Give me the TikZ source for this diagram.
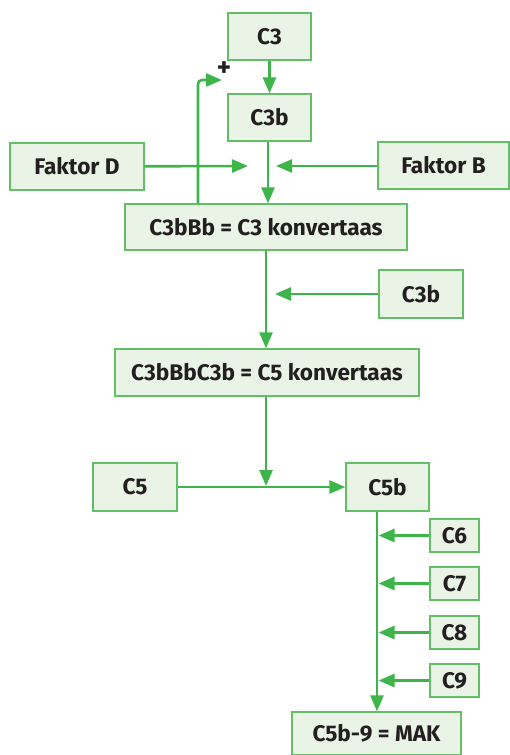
\documentclass[tikz,border=0pt]{standalone}
\usepackage{fontspec}
\setmainfont{Fira Sans}
\usetikzlibrary{arrows.meta}
\definecolor{schemaInk}{HTML}{231F20}
\definecolor{schemaGreen}{HTML}{3DB54A}
\definecolor{schemaFill}{HTML}{E9F4E6}
\definecolor{schemaEdge}{HTML}{62BF67}
\tikzset{
    schema/box/.style={
        rectangle, draw=schemaEdge, fill=schemaFill,
        text=schemaInk, line width=1.3pt,
        font=\fontsize{22.6}{25}\selectfont\bfseries,
        minimum width=83pt, minimum height=47pt, inner sep=0pt
    },
    schema/small/.style={
        schema/box, minimum width=49pt, minimum height=33pt
    },
    schema/line/.style={
        draw=schemaGreen, line width=2.6pt
    },
    schema/arrow/.style={
        schema/line, -{Triangle[length=16pt,width=13pt]}
    },
    schema/sign/.style={
        font=\fontsize{27}{27}\selectfont\bfseries, text=schemaInk,
        inner sep=0pt
    }
}
\begin{document}
\begin{tikzpicture}[x=1pt,y=-1pt]
    \useasboundingbox (0,0) rectangle (510,755);

    \node[schema/box] (c3) at (269.5,36.5) {C3};
    \node[schema/box] (c3b) at (269.5,117.5) {C3b};
    \node[schema/box, minimum width=134pt] (faktorD) at (77,166.5) {Faktor D};
    \node[schema/box, minimum width=131pt] (faktorB) at (443.5,165.5) {Faktor B};
    \node[schema/box, minimum width=282pt, minimum height=46pt] (konv1) at (266,227)
        {C3bBb = C3 konvertaas};
    \node[schema/box, minimum width=84pt, minimum height=48pt] (c3bB) at (421,294) {C3b};
    \node[schema/box, minimum width=304pt] (konv2) at (267,372.5)
        {C3bBbC3b = C5 konvertaas};
    \node[schema/box, minimum width=84pt, minimum height=48pt] (c5) at (135,487) {C5};
    \node[schema/box, minimum height=48pt] (c5b) at (387.5,487) {C5b};
    \node[schema/small] (c6) at (454.5,535.5) {C6};
    \node[schema/small] (c7) at (454.5,583.5) {C7};
    \node[schema/small] (c8) at (454.5,632.5) {C8};
    \node[schema/small] (c9) at (454.5,680.5) {C9};
    \node[schema/box, minimum width=169pt, minimum height=43pt] (mak) at (376.5,733.5)
        {C5b-9 = MAK};

    \coordinate (trunk) at (268,166);
    \coordinate (fromD) at (248,166);
    \coordinate (fromB) at (276,166);
    \coordinate (loop) at (198,80);
    \coordinate (plus) at (222,80);
    \coordinate (fromC3b) at (275,294);
    \coordinate (meet) at (266,486);
    \coordinate (spine) at (377,600);
    \coordinate (spineEdge) at (378.5,600);

    \draw[schema/arrow] (c3) -- (c3b);
    \draw[schema/arrow] (c3b.south -| trunk) -- (konv1.north -| trunk);
    \draw[schema/arrow] (faktorD) -- (fromD);
    \draw[schema/arrow] (faktorB.west |- fromB) -- (fromB);
    \draw[schema/arrow, rounded corners=4pt] (konv1.north -| loop) |- (plus);
    \node[schema/sign] at (224,69) {+};

    \draw[schema/arrow] (konv1.south -| meet) -- (konv2.north -| meet);
    \draw[schema/arrow] (c3bB.west |- fromC3b) -- (fromC3b);
    \draw[schema/arrow] (konv2.south -| meet) -- (meet);
    \draw[schema/arrow] (c5) -- (c5b);

    \draw[schema/arrow] (c5b.south -| spine) -- (mak.north -| spine);
    \foreach \n in {6,...,9}
        \draw[schema/arrow] (c\n.west) -- (c\n.west -| spineEdge);
\end{tikzpicture}
\end{document}
